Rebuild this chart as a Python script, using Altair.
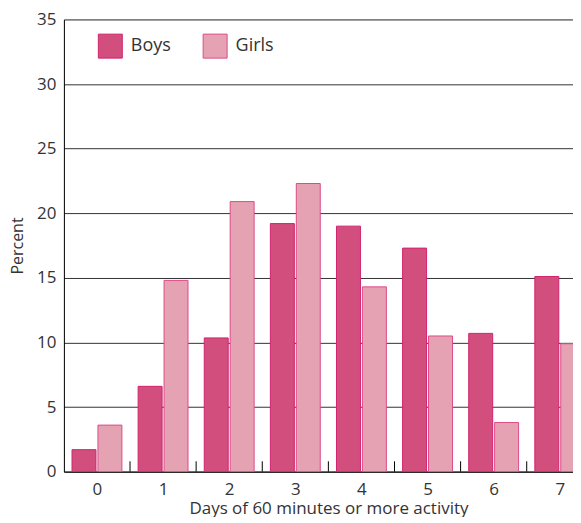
import altair as alt
import pandas as pd

days = [0, 1, 2, 3, 4, 5, 6, 7]
boys = [1.7, 6.6, 10.35, 19.2, 19.0, 17.3, 10.7, 15.1]
girls = [3.6, 14.8, 20.9, 22.3, 14.3, 10.5, 3.8, 9.9]
groups = ["Boys", "Girls"]
boundaries = [0.5, 1.5, 2.5, 3.5, 4.5, 5.5, 6.5]

rows = []
for d, b, g in zip(days, boys, girls):
    rows.append({"day": d, "sex": "Boys", "pct": b, "off": -0.196})
    rows.append({"day": d, "sex": "Girls", "pct": g, "off": 0.196})
df = pd.DataFrame(rows)
bdf = pd.DataFrame({"b": boundaries, "y0": [0] * len(boundaries), "y1": [0.8] * len(boundaries)})

FONT = "Open Sans"
TXT = "#333333"

xscale = alt.Scale(domain=[-0.5, 7.2], nice=False, zero=False, padding=0)
yscale = alt.Scale(domain=[0, 35], nice=False, padding=0)

fill_scale = alt.Scale(domain=groups, range=["#d14e7d", "#e5a2b2"])
stroke_scale = alt.Scale(domain=groups, range=["#d2236f", "#dc4b88"])

legend = alt.Legend(
    title=None, orient="none", legendX=34, legendY=14, direction="horizontal",
    symbolType="square", symbolSize=576, symbolStrokeWidth=1,
    labelFontSize=18, labelFont=FONT, labelColor=TXT, labelOffset=8,
    columnPadding=29, padding=0,
)

bars = alt.Chart(df).transform_calculate(
    xpos="datum.day + datum.off"
).mark_bar(size=24, strokeWidth=1, clip=True).encode(
    x=alt.X("xpos:Q", scale=xscale,
            axis=alt.Axis(values=days, ticks=False, grid=False, format="d",
                          title="Days of 60 minutes or more activity",
                          labelFontSize=17, labelPadding=10, titleFontSize=17,
                          titleFontWeight="normal", titlePadding=3, titleX=265,
                          domainColor="#000000", labelColor=TXT, titleColor=TXT,
                          labelFont=FONT, titleFont=FONT)),
    y=alt.Y("pct:Q", scale=yscale,
            axis=alt.Axis(values=[0, 5, 10, 15, 20, 25, 30, 35], ticks=False,
                          grid=True, gridColor="#333333", gridWidth=1,
                          title="Percent", labelFontSize=17, labelPadding=8,
                          titleFontSize=16, titleFontWeight="normal", titlePadding=11,
                          domainColor="#000000", labelColor=TXT, titleColor=TXT,
                          labelFont=FONT, titleFont=FONT)),
    fill=alt.Fill("sex:N", scale=fill_scale, legend=legend),
    stroke=alt.Stroke("sex:N", scale=stroke_scale, legend=legend),
)

ticks = alt.Chart(bdf).mark_rule(color="#000000", strokeWidth=1).encode(
    x=alt.X("b:Q", scale=xscale),
    y=alt.Y("y0:Q", scale=yscale),
    y2="y1:Q",
)

chart = alt.layer(ticks, bars).properties(
    width=510, height=453,
    padding={"left": 1, "top": 2, "right": 0, "bottom": 0},
).configure_view(stroke=None).configure(font=FONT)

chart.save("out.html", embed_options={"renderer": "svg", "actions": False})
